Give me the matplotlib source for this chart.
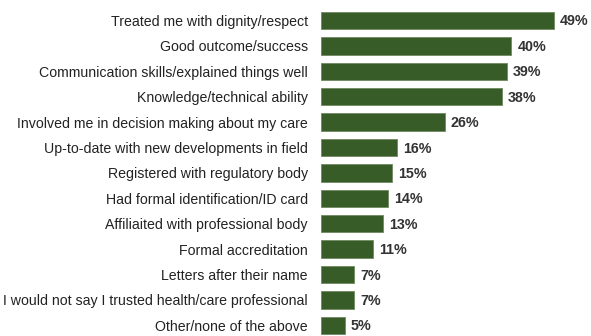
import matplotlib
matplotlib.use("Agg")
import matplotlib.pyplot as plt
from matplotlib.transforms import offset_copy

categories = [
    "Treated me with dignity/respect",
    "Good outcome/success",
    "Communication skills/explained things well",
    "Knowledge/technical ability",
    "Involved me in decision making about my care",
    "Up-to-date with new developments in field",
    "Registered with regulatory body",
    "Had formal identification/ID card",
    "Affiliaited with professional body",
    "Formal accreditation",
    "Letters after their name",
    "I would not say I trusted health/care professional",
    "Other/none of the above",
]
values = [49, 40, 39, 38, 26, 16, 15, 14, 13, 11, 7, 7, 5]
value_labels = [f"{v}%" for v in values]

W, H = 591, 336
DPI = 100
fig = plt.figure(figsize=(W / DPI, H / DPI), dpi=DPI)
fig.patch.set_facecolor("white")

left_px, right_px = 321, 578
ax = fig.add_axes([left_px / W, 0, (right_px - left_px) / W, 1])
ax.set_facecolor("none")

positions = list(range(len(categories)))
ax.barh(positions, values, height=0.68, color="#385c27",
        edgecolor="#6f8a60", linewidth=0.6)

ax.set_xlim(0, 54)
ax.set_ylim(12.42, -0.807)

ax.set_yticks(positions)
ax.set_yticklabels(categories, fontsize=10.2, color="#222222",
                   fontfamily="Liberation Sans")
ax.tick_params(axis="y", length=0, pad=9.5)
ax.set_xticks([])
for s in ax.spines.values():
    s.set_visible(False)

trans = offset_copy(ax.transData, fig=fig, x=6, y=-1, units="dots")
for p, v, lab in zip(positions, values, value_labels):
    ax.text(v, p, lab, transform=trans, ha="left", va="center",
            fontsize=10.3, fontweight="bold", color="#333333",
            fontfamily="Liberation Sans")

fig.savefig("out.png", dpi=DPI, facecolor="white")
